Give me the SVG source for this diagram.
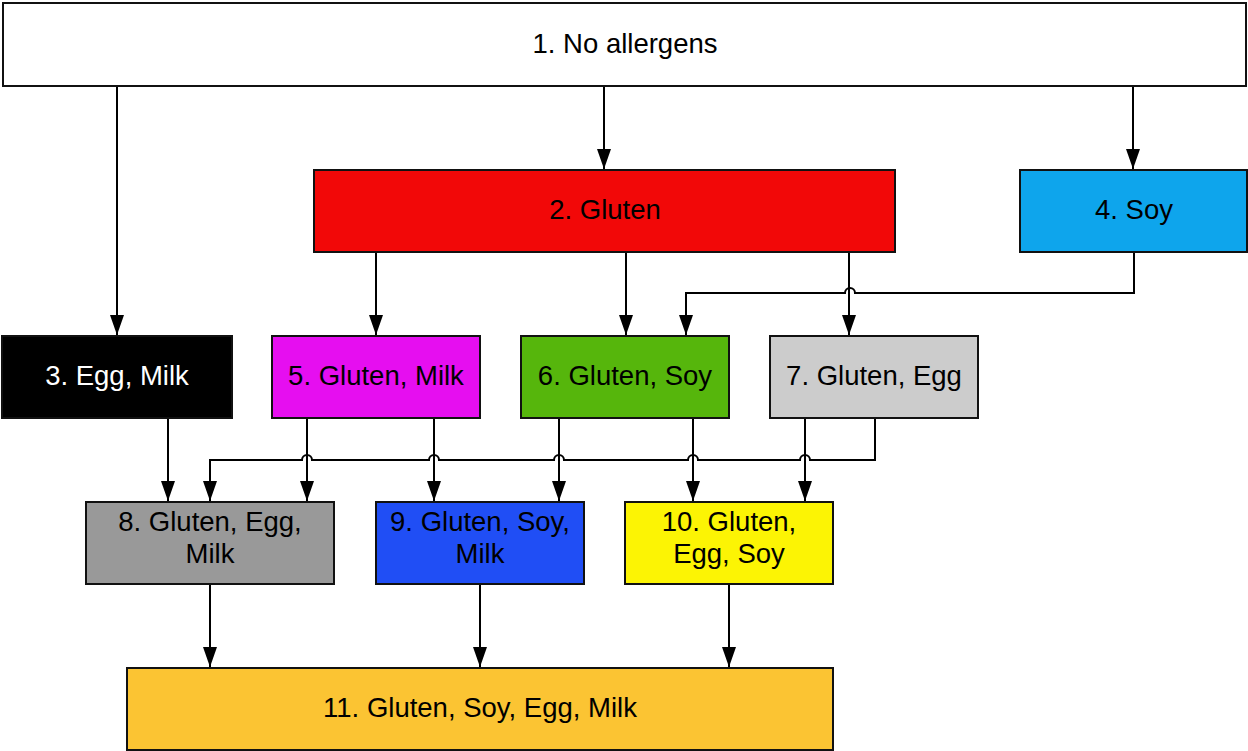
<svg xmlns="http://www.w3.org/2000/svg" width="1248" height="751" viewBox="0 0 1248 751">
  <style>
    .box { stroke: #111; stroke-width: 2; }
    .lbl { font-family: "Liberation Sans", Arial, sans-serif; font-size: 27.5px; fill: #000; text-anchor: middle; dominant-baseline: central; }
    .wire { fill: none; stroke: #000; stroke-width: 2; marker-end: url(#arrow); }
  </style>
  <defs>
    <marker id="arrow" viewBox="0 0 20 14" refX="20" refY="7" markerWidth="20" markerHeight="14" markerUnits="userSpaceOnUse" orient="auto">
      <path d="M0,0 L20,7 L0,14 Z" fill="#000"/>
    </marker>
  </defs>

  <rect width="1248" height="751" fill="#fff"/>

  <g id="node1"><rect class="box" x="3" y="3" width="1243" height="83" fill="#fff"/><text class="lbl" x="625" y="43">1. No allergens</text></g>
  <g id="node2"><rect class="box" x="314" y="170" width="581" height="82" fill="#f20808"/><text class="lbl" x="605" y="209">2. Gluten</text></g>
  <g id="node4"><rect class="box" x="1020" y="170" width="227" height="82" fill="#0ea5ec"/><text class="lbl" x="1134" y="209">4. Soy</text></g>
  <g id="node3"><rect class="box" x="2" y="336" width="230" height="82" fill="#000"/><text class="lbl" x="117" y="375" style="fill:#fff">3. Egg, Milk</text></g>
  <g id="node5"><rect class="box" x="272" y="336" width="208" height="82" fill="#e60ef0"/><text class="lbl" x="376" y="375">5. Gluten, Milk</text></g>
  <g id="node6"><rect class="box" x="521" y="336" width="208" height="82" fill="#56b60c"/><text class="lbl" x="625" y="375">6. Gluten, Soy</text></g>
  <g id="node7"><rect class="box" x="770" y="336" width="208" height="82" fill="#cccccc"/><text class="lbl" x="874" y="375">7. Gluten, Egg</text></g>
  <g id="node8"><rect class="box" x="86" y="502" width="248" height="82" fill="#999999"/><text class="lbl" x="210" y="521">8. Gluten, Egg,</text><text class="lbl" x="210" y="553">Milk</text></g>
  <g id="node9"><rect class="box" x="376" y="502" width="208" height="82" fill="#204ef5"/><text class="lbl" x="480" y="521">9. Gluten, Soy,</text><text class="lbl" x="480" y="553">Milk</text></g>
  <g id="node10"><rect class="box" x="625" y="502" width="208" height="82" fill="#fcf404"/><text class="lbl" x="729" y="521">10. Gluten,</text><text class="lbl" x="729" y="553">Egg, Soy</text></g>
  <g id="node11"><rect class="box" x="127" y="668" width="706" height="82" fill="#fbc433"/><text class="lbl" x="480" y="707">11. Gluten, Soy, Egg, Milk</text></g>

  <g id="connectors">
    <path class="wire" d="M117,87 V335"/>
    <path class="wire" d="M604,87 V169"/>
    <path class="wire" d="M1133,87 V169"/>
    <path class="wire" d="M376,253 V335"/>
    <path class="wire" d="M626,253 V335"/>
    <path class="wire" d="M849,253 V335"/>
    <!-- 4 -> 6, hopping over the 2 -> 7 line -->
    <path class="wire" d="M1134,253 V293 H855 A5,5 0 0 0 845,293 H686 V335"/>
    <path class="wire" d="M168,419 V501"/>
    <path class="wire" d="M307,419 V501"/>
    <path class="wire" d="M434,419 V501"/>
    <path class="wire" d="M559,419 V501"/>
    <path class="wire" d="M693,419 V501"/>
    <path class="wire" d="M805,419 V501"/>
    <!-- 7 -> 8, hopping over the vertical drops -->
    <path class="wire" d="M875,419 V460 H810 A5,5 0 0 0 800,460 H698 A5,5 0 0 0 688,460 H564 A5,5 0 0 0 554,460 H439 A5,5 0 0 0 429,460 H312 A5,5 0 0 0 302,460 H210 V501"/>
    <path class="wire" d="M210,585 V667"/>
    <path class="wire" d="M480,585 V667"/>
    <path class="wire" d="M729,585 V667"/>
  </g>
</svg>
